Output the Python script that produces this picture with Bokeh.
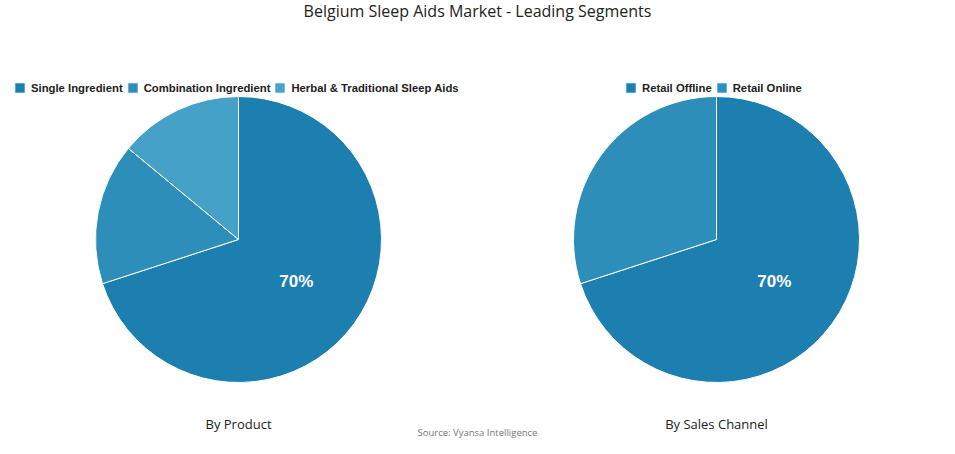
import math
from bokeh.plotting import figure
from bokeh.models import Range1d, Legend, LegendItem, Label
from bokeh.core.properties import value
from bokeh.embed import file_html
from bokeh.resources import INLINE

title = "Belgium Sleep Aids Market - Leading Segments"
product_labels = ["Single Ingredient", "Combination Ingredient", "Herbal & Traditional Sleep Aids"]
product_values = [70, 16, 14]
channel_labels = ["Retail Offline", "Retail Online"]
channel_values = [70, 30]
colors = ["#1c7fb0", "#2e8eba", "#45a1c7"]
subtitles = ["By Product", "By Sales Channel"]
source_text = "Source: Vyansa Intelligence"

W, H = 939, 438
TOP = 454
p = figure(width=W, height=H, output_backend="svg", toolbar_location=None,
           x_range=Range1d(0, W), y_range=Range1d(TOP - H, TOP),
           x_axis_location=None, y_axis_location=None,
           min_border=0, min_border_left=0, min_border_right=0,
           min_border_top=0, min_border_bottom=0)
p.grid.visible = False
p.outline_line_color = None
p.background_fill_color = "white"
p.border_fill_color = "white"

R = 143
centers = [(238, TOP - 239), (716, TOP - 239)]
legend_locs = [(13, H - 94), (624, H - 94)]


def draw_pie(labels, values, cx, cy, leg_loc):
    total = float(sum(values))
    starts, ends, mids = [], [], []
    cum = 0.0
    for v in values:
        a0 = math.pi / 2 - 2 * math.pi * cum / total
        cum += v
        a1 = math.pi / 2 - 2 * math.pi * cum / total
        starts.append(a0)
        ends.append(a1)
        mids.append((a0 + a1) / 2)
    items = []
    for i in range(len(values)):
        r = p.wedge(x=cx, y=cy, radius=R, start_angle=starts[i], end_angle=ends[i],
                    direction="clock", fill_color=colors[i], line_color="white", line_width=1)
        items.append(LegendItem(label=labels[i], renderers=[r]))
    tx, ty, tt = [], [], []
    for i, v in enumerate(values):
        if v / total >= 0.5:
            tx.append(cx + 0.5 * R * math.cos(mids[i]))
            ty.append(cy + 0.5 * R * math.sin(mids[i]))
            tt.append(f"{v}%")
    p.text(x=tx, y=ty, text=tt, text_color="white", text_font=value("Liberation Sans"),
           text_font_style="bold", text_font_size="17px", text_align="center", text_baseline="middle")
    leg = Legend(items=items, orientation="horizontal", location=leg_loc,
                 glyph_width=13, glyph_height=13, label_standoff=5, spacing=3,
                 padding=0, margin=0, border_line_color=None, background_fill_alpha=0,
                 label_text_font="Liberation Sans", label_text_font_style="bold",
                 label_text_font_size="11.3px", label_text_color="#222222", label_height=13)
    p.add_layout(leg, "center")


draw_pie(product_labels, product_values, centers[0][0], centers[0][1], legend_locs[0])
draw_pie(channel_labels, channel_values, centers[1][0], centers[1][1], legend_locs[1])

p.add_layout(Label(x=477, y=TOP - 10, text=title, text_align="center", text_baseline="middle",
                   text_font="Open Sans", text_font_size="16px", text_color="#222222"))
for (cx, cy), s in zip(centers, subtitles):
    p.add_layout(Label(x=cx, y=TOP - 423, text=s, text_align="center", text_baseline="middle",
                       text_font="Open Sans", text_font_size="13px", text_color="#222222"))
p.add_layout(Label(x=477, y=TOP - 432, text=source_text, text_align="center", text_baseline="middle",
                   text_font="Open Sans", text_font_size="9.5px", text_color="#777777"))

open("out.html", "w").write(file_html(p, INLINE))
